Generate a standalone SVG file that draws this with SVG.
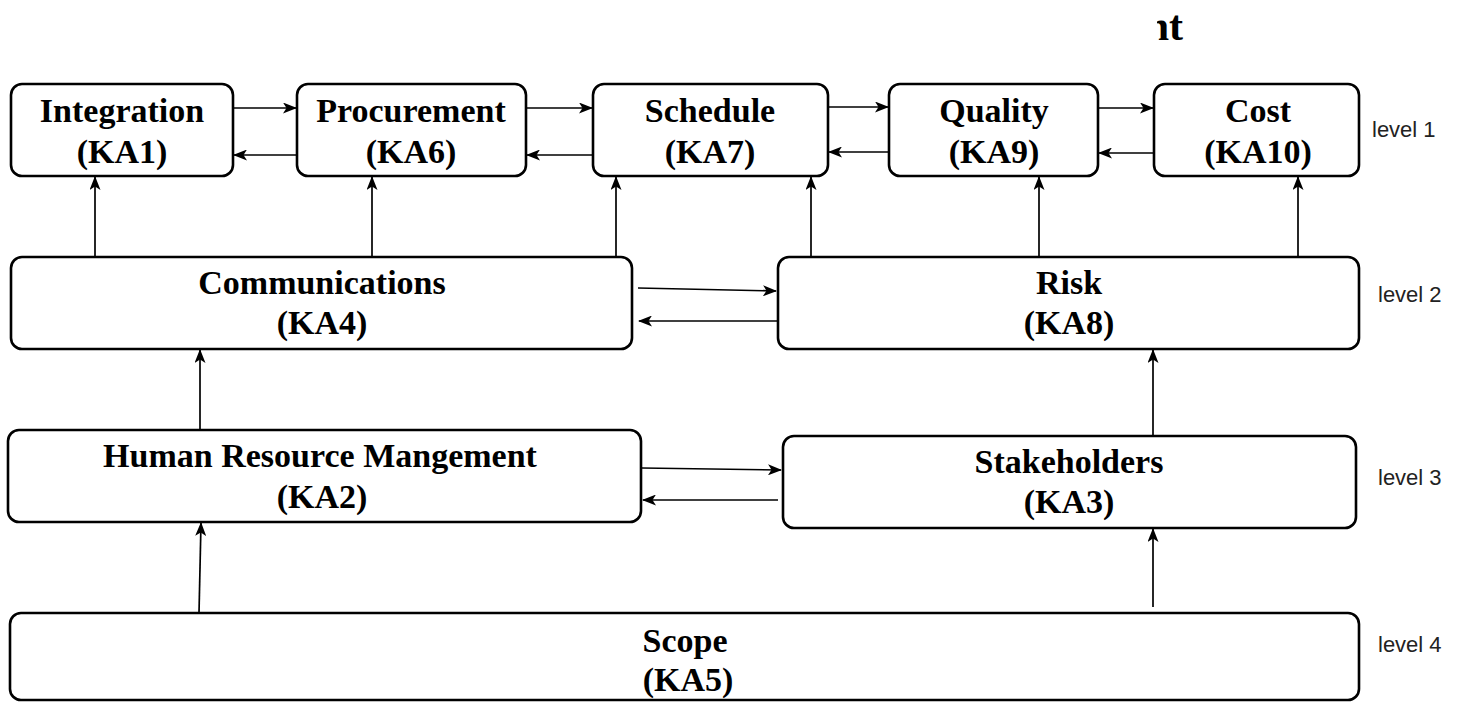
<svg xmlns="http://www.w3.org/2000/svg" width="1465" height="702" viewBox="0 0 1465 702">
<style>
.box{fill:#fff;stroke:#000;stroke-width:2.6}
.t{font-family:"Liberation Serif","Times New Roman",serif;font-weight:bold;font-size:34px;fill:#000;text-anchor:middle}
.lv{font-family:"Liberation Sans",Arial,sans-serif;font-size:22px;fill:#222}
.c{fill:none;stroke:#000;stroke-width:1.7;marker-end:url(#ah)}
</style>
<defs>
<marker id="ah" viewBox="0 0 14 11" refX="13" refY="5.5" markerWidth="14" markerHeight="11" markerUnits="userSpaceOnUse" orient="auto">
<path d="M0,0 L14,5.5 L0,11 L3.5,5.5 Z" fill="#000"/>
</marker>
<clipPath id="tc"><rect x="1157" y="0" width="60" height="60"/></clipPath>
</defs>
<rect width="1465" height="702" fill="#fff"/>
<text x="1183" y="40" clip-path="url(#tc)" style="font-family:'Liberation Serif','Times New Roman',serif;font-weight:bold;font-size:42px;text-anchor:end">nt</text>

<g id="connectors">
<line class="c" x1="233" y1="108" x2="296" y2="108"/>
<line class="c" x1="297" y1="155" x2="234" y2="155"/>
<line class="c" x1="526" y1="108" x2="592" y2="108"/>
<line class="c" x1="593" y1="155" x2="527" y2="155"/>
<line class="c" x1="828" y1="107" x2="888" y2="107"/>
<line class="c" x1="889" y1="152" x2="829" y2="152"/>
<line class="c" x1="1098" y1="108" x2="1153" y2="108"/>
<line class="c" x1="1154" y1="153" x2="1099" y2="153"/>
<line class="c" x1="95" y1="256" x2="95" y2="177"/>
<line class="c" x1="372" y1="256" x2="372" y2="177"/>
<line class="c" x1="616" y1="256" x2="616" y2="177"/>
<line class="c" x1="811" y1="256" x2="811" y2="177"/>
<line class="c" x1="1039" y1="256" x2="1039" y2="177"/>
<line class="c" x1="1298" y1="256" x2="1298" y2="177"/>
<line class="c" x1="638" y1="288" x2="776" y2="291"/>
<line class="c" x1="777" y1="321" x2="639" y2="321"/>
<line class="c" x1="642" y1="468" x2="781" y2="470"/>
<line class="c" x1="778" y1="500" x2="643" y2="500"/>
<line class="c" x1="200" y1="430" x2="200" y2="350"/>
<line class="c" x1="199" y1="613" x2="201" y2="523"/>
<line class="c" x1="1153" y1="436" x2="1153" y2="350"/>
<line class="c" x1="1153" y1="607" x2="1153" y2="529"/>
</g>

<g id="ka1"><rect class="box" x="11" y="84" width="222" height="92" rx="11"/><text class="t" x="122" y="122">Integration</text><text class="t" x="122" y="163">(KA1)</text></g>
<g id="ka6"><rect class="box" x="297" y="84" width="229" height="92" rx="11"/><text class="t" x="411" y="122">Procurement</text><text class="t" x="411" y="163">(KA6)</text></g>
<g id="ka7"><rect class="box" x="593" y="84" width="235" height="92" rx="11"/><text class="t" x="710" y="122">Schedule</text><text class="t" x="710" y="163">(KA7)</text></g>
<g id="ka9"><rect class="box" x="889" y="84" width="209" height="92" rx="11"/><text class="t" x="994" y="122">Quality</text><text class="t" x="994" y="163">(KA9)</text></g>
<g id="ka10"><rect class="box" x="1154" y="84" width="205" height="92" rx="11"/><text class="t" x="1258" y="122">Cost</text><text class="t" x="1258" y="163">(KA10)</text></g>
<g id="ka4"><rect class="box" x="11" y="257" width="621" height="92" rx="11"/><text class="t" x="322" y="294">Communications</text><text class="t" x="322" y="334">(KA4)</text></g>
<g id="ka8"><rect class="box" x="778" y="257" width="581" height="92" rx="11"/><text class="t" x="1069" y="294">Risk</text><text class="t" x="1069" y="334">(KA8)</text></g>
<g id="ka2"><rect class="box" x="8" y="430" width="633" height="92" rx="11"/><text class="t" x="320" y="467">Human Resource Mangement</text><text class="t" x="322" y="508">(KA2)</text></g>
<g id="ka3"><rect class="box" x="783" y="436" width="573" height="92" rx="11"/><text class="t" x="1069" y="473">Stakeholders</text><text class="t" x="1069" y="513">(KA3)</text></g>
<g id="ka5"><rect class="box" x="10" y="613" width="1349" height="87" rx="11"/><text class="t" x="685" y="652">Scope</text><text class="t" x="688" y="691">(KA5)</text></g>

<g id="levels">
<text class="lv" x="1372" y="137">level 1</text>
<text class="lv" x="1378" y="302">level 2</text>
<text class="lv" x="1378" y="485">level 3</text>
<text class="lv" x="1378" y="652">level 4</text>
</g>
</svg>
